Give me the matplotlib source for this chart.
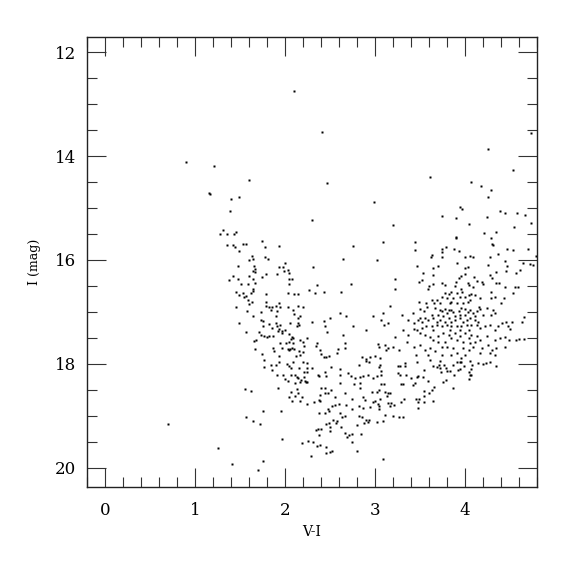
import numpy as np
import matplotlib
matplotlib.use("Agg")
import matplotlib.pyplot as plt
from matplotlib.ticker import MultipleLocator

# colour-magnitude data (V-I, I), read off the reference picture region by region
# bright / sparse stars above the main groups
top_vi = [2.10, 2.41, 4.73, 4.26]
top_i = [12.75, 13.54, 13.56, 13.86]

# upper part of the blue branch
blue_up_vi = [0.90, 1.21, 1.16, 1.17, 1.40, 1.49, 1.39, 1.31, 1.28, 1.36, 1.43, 1.46, 1.36, 1.42, 1.45, 1.49,
              1.60, 2.47, 2.99, 2.30, 1.53, 1.57, 1.74, 1.78, 1.93, 2.76,
              1.48, 1.42, 1.38, 1.48, 1.46, 1.49, 1.46, 1.49]
blue_up_i = [14.12, 14.19, 14.71, 14.74, 14.83, 14.79, 15.06, 15.43, 15.51, 15.51, 15.51, 15.46, 15.72, 15.72, 15.76, 15.83,
             14.47, 14.52, 14.88, 15.23, 15.69, 15.70, 15.64, 15.76, 15.74, 15.73,
             16.12, 16.31, 16.38, 16.37, 16.62, 16.68, 16.90, 17.21]

# upper part of the red group
red_up_vi = [3.61, 4.53, 4.07, 4.18, 4.29, 4.26, 3.95, 3.97, 3.74, 3.90, 3.20, 4.39, 4.44, 4.58, 4.67, 4.73, 4.24,
             4.05, 4.54, 4.35, 4.21, 4.29, 3.90, 3.90, 3.09, 3.45, 4.30, 4.31, 4.70, 3.79, 3.88, 4.47, 3.75]
red_up_i = [14.40, 14.26, 14.50, 14.57, 14.65, 14.78, 14.98, 15.01, 15.15, 15.19, 15.32, 15.05, 15.10, 15.10, 15.14, 15.29, 15.18,
            15.31, 15.37, 15.46, 15.48, 15.58, 15.56, 15.58, 15.65, 15.66, 15.69, 15.72, 15.78, 15.76, 15.79, 15.79, 15.79]

# blue branch, middle (V-I 1.5 - 3.0, I 15.9 - 17.9)
blue_mid_vi = [1.63, 1.64, 1.60, 1.78, 1.81, 1.66, 1.67, 1.65, 1.67, 1.93, 2.00, 1.98, 2.03, 1.99, 2.04, 2.31, 2.64, 3.02,
               1.60, 1.64, 1.75, 1.79, 1.91, 2.08, 2.04, 2.04, 1.59, 1.67, 1.51, 1.65, 1.64, 1.62, 1.53, 1.57, 1.54,
               1.59, 1.60, 1.63, 1.79, 2.03, 2.10, 2.14, 2.27, 2.33, 2.43, 2.36, 2.73, 2.62, 1.58, 1.65, 1.79, 1.79,
               1.82, 1.86, 1.84, 1.90, 1.93, 1.94, 1.91, 2.03, 2.09, 2.15, 2.20, 2.10, 2.17, 2.15, 1.73, 1.90, 1.73,
               1.76, 1.76, 1.82, 1.86, 1.90, 1.91, 1.95, 2.06, 2.15, 2.16, 2.13, 2.30, 2.43, 2.50, 2.61, 2.68, 2.44,
               2.47, 1.57, 1.71, 1.73, 1.77, 1.80, 1.82, 1.87, 1.92, 1.93, 1.97, 2.00, 1.97, 2.04, 2.08, 2.07, 2.09,
               2.09, 2.04, 2.01, 1.94, 1.97, 1.87, 1.88, 2.03, 2.04, 2.08, 2.10, 2.06, 2.17, 2.20, 2.25, 2.21, 2.16,
               2.17, 2.12, 2.20, 2.36, 2.34, 2.39, 1.68, 1.66, 1.67, 1.75, 1.93, 2.40, 2.43, 2.46, 2.49, 2.59, 2.58,
               2.67, 2.67, 2.65, 2.76, 2.90, 2.98, 3.03, 3.04, 2.86, 2.90, 2.94, 3.00]
blue_mid_i = [15.92, 15.98, 16.01, 15.94, 15.98, 16.12, 16.17, 16.21, 16.24, 16.13, 16.06, 16.14, 16.19, 16.21, 16.26, 16.13, 15.99, 16.00,
              16.31, 16.37, 16.33, 16.28, 16.28, 16.36, 16.37, 16.46, 16.47, 16.44, 16.47, 16.56, 16.60, 16.64, 16.64, 16.69, 16.72,
              16.78, 16.85, 16.81, 16.66, 16.64, 16.65, 16.65, 16.58, 16.63, 16.61, 16.48, 16.46, 16.62, 16.99, 17.08, 16.80, 16.88,
              16.90, 16.90, 16.97, 16.88, 16.83, 16.90, 16.98, 16.90, 16.96, 16.88, 16.90, 17.04, 17.08, 17.12, 17.01, 17.08, 17.15,
              17.17, 17.27, 17.23, 17.31, 17.21, 17.28, 17.25, 17.21, 17.21, 17.26, 17.28, 17.19, 17.17, 17.11, 17.03, 17.08, 17.27,
              17.38, 17.39, 17.38, 17.45, 17.46, 17.49, 17.46, 17.46, 17.37, 17.33, 17.36, 17.35, 17.41, 17.42, 17.49, 17.53, 17.51,
              17.60, 17.57, 17.60, 17.60, 17.69, 17.69, 17.76, 17.71, 17.73, 17.69, 17.71, 17.72, 17.54, 17.57, 17.51, 17.65, 17.76,
              17.82, 17.85, 17.78, 17.59, 17.65, 17.73, 17.54, 17.56, 17.72, 17.81, 17.85, 17.81, 17.86, 17.86, 17.85, 17.71, 17.79,
              17.60, 17.70, 17.44, 17.28, 17.35, 17.08, 17.62, 17.67, 17.86, 17.91, 17.86, 17.84]

# red clump region (V-I 3.0 - 4.8, I 15.8 - 17.9)
red_mid_vi = [3.44, 3.63, 3.62, 3.74, 3.75, 3.93, 4.00, 4.06, 4.09, 4.28, 4.37, 4.44, 4.53, 4.79, 4.65, 4.72, 4.76,
              3.47, 3.64, 3.70, 3.91, 4.00, 4.03, 4.26, 4.47, 4.34, 4.46, 4.57, 4.61, 3.53, 3.64, 3.96, 4.00, 3.93,
              4.28, 4.10, 3.22, 3.52, 3.49, 3.74, 3.78, 3.65, 3.90, 4.03, 4.05, 4.19, 4.20, 4.30, 4.35, 4.38, 4.13,
              4.45, 4.56, 4.59, 3.22, 3.60, 3.59, 3.89, 3.96, 4.09, 3.84, 4.53, 3.78, 3.82, 3.91, 3.97, 4.04, 4.07,
              4.11, 3.94, 4.00, 3.87, 3.80, 3.74, 3.69, 3.63, 3.57, 3.49, 4.17, 4.29, 4.29, 4.33, 4.43, 4.40, 4.06,
              4.03, 3.98, 3.91, 3.85, 3.83, 3.72, 3.66, 3.17, 3.09, 3.30, 3.42, 3.50, 3.54, 3.58, 3.67, 3.72, 3.74,
              3.78, 3.82, 3.85, 3.80, 3.87, 3.93, 3.96, 4.00, 4.03, 4.06, 4.09, 4.13, 4.17, 4.16, 4.24, 4.31, 4.33,
              4.29, 4.20, 4.11, 4.00, 3.94, 3.89, 3.76, 3.70, 3.63, 3.07, 3.14, 3.10, 3.31, 3.37, 3.43, 3.48, 3.50,
              3.52, 3.56, 3.59, 3.65, 3.69, 3.72, 3.78, 3.82, 3.85, 3.89, 3.94, 3.98, 4.02, 4.06, 4.11, 4.15, 4.13,
              4.07, 4.02, 3.96, 3.91, 3.85, 3.80, 3.74, 3.69, 3.63, 3.57, 3.52, 3.47, 3.43, 3.65, 3.83, 3.94, 4.04,
              4.17, 4.22, 4.28, 4.33, 4.37, 4.41, 4.46, 4.48, 4.52, 4.50, 4.66, 4.63, 3.22, 3.37, 3.50, 3.56, 3.61,
              3.65, 3.70, 3.76, 3.82, 3.85, 3.89, 3.94, 4.00, 4.04, 4.07, 4.13, 4.17, 4.24, 4.33, 4.39, 4.44, 4.49,
              4.57, 4.60, 4.66, 3.36, 3.50, 3.70, 3.78, 3.91, 3.98, 4.06, 4.11, 3.11, 3.14, 3.20, 3.27, 3.43, 3.56,
              3.61, 3.67, 3.74, 3.80, 3.87, 3.91, 3.98, 4.04, 4.09, 4.19, 4.26, 4.30, 4.35, 4.44, 4.28, 4.17, 4.00,
              3.85, 3.74, 3.59, 3.46, 3.12, 4.33, 3.06, 3.96]
red_mid_i = [15.81, 15.90, 15.94, 15.84, 15.95, 15.83, 15.95, 15.92, 15.94, 15.94, 15.89, 16.02, 15.81, 15.92, 16.05, 16.08, 16.09,
             16.12, 16.15, 16.11, 16.06, 16.15, 16.13, 16.10, 16.12, 16.24, 16.22, 16.26, 16.20, 16.26, 16.29, 16.31, 16.28, 16.34,
             16.29, 16.32, 16.37, 16.38, 16.42, 16.44, 16.48, 16.46, 16.42, 16.45, 16.48, 16.42, 16.47, 16.34, 16.45, 16.44, 16.40,
             16.53, 16.53, 16.53, 16.56, 16.51, 16.56, 16.51, 16.55, 16.53, 16.61, 16.64, 16.64, 16.66, 16.64, 16.61, 16.67, 16.65,
             16.67, 16.71, 16.71, 16.74, 16.74, 16.71, 16.77, 16.77, 16.82, 16.80, 16.74, 16.61, 16.74, 16.72, 16.74, 16.83, 16.77,
             16.80, 16.83, 16.83, 16.80, 16.83, 16.83, 16.83, 16.88, 17.03, 17.05, 17.02, 16.95, 16.99, 16.91, 16.93, 16.96, 16.99,
             16.95, 16.97, 16.96, 17.03, 17.01, 16.99, 16.93, 16.95, 17.01, 16.96, 17.03, 16.99, 16.95, 16.90, 16.93, 16.96, 17.03,
             17.06, 17.06, 17.08, 17.06, 17.06, 17.08, 17.08, 17.06, 17.06, 17.15, 17.21, 17.25, 17.34, 17.15, 17.22, 17.15, 17.12,
             17.19, 17.12, 17.15, 17.12, 17.19, 17.15, 17.19, 17.12, 17.19, 17.15, 17.12, 17.19, 17.15, 17.12, 17.15, 17.19, 17.25,
             17.25, 17.25, 17.28, 17.27, 17.28, 17.25, 17.28, 17.25, 17.28, 17.27, 17.31, 17.35, 17.33, 17.35, 17.35, 17.35, 17.35,
             17.31, 17.28, 17.25, 17.35, 17.27, 17.22, 17.19, 17.27, 17.19, 17.33, 17.09, 17.19, 17.49, 17.44, 17.41, 17.44, 17.49,
             17.54, 17.47, 17.41, 17.44, 17.51, 17.41, 17.47, 17.41, 17.51, 17.44, 17.47, 17.54, 17.47, 17.54, 17.51, 17.49, 17.54,
             17.54, 17.53, 17.53, 17.57, 17.63, 17.57, 17.57, 17.54, 17.57, 17.60, 17.57, 17.63, 17.70, 17.67, 17.73, 17.68, 17.73,
             17.70, 17.76, 17.67, 17.67, 17.70, 17.79, 17.70, 17.73, 17.67, 17.70, 17.63, 17.73, 17.70, 17.67, 17.79, 17.79, 17.83,
             17.83, 17.83, 17.83, 17.83, 17.74, 17.83, 17.89, 17.89]

# faint part of the blue branch and the turn-over (I > 17.9, V-I < 3.05)
faint_vi = [1.77, 1.85, 1.90, 1.93, 1.77, 1.86, 2.02, 2.04, 2.09, 2.07, 2.16, 2.20, 2.24, 2.24, 2.30, 2.21, 2.24, 2.51,
            2.61, 2.82, 2.90, 2.93, 3.04, 1.91, 1.98, 2.07, 2.00, 2.03, 2.11, 2.13, 2.15, 2.18, 2.17, 2.21, 2.22, 2.23,
            2.25, 2.37, 2.38, 2.44, 2.46, 2.61, 2.70, 2.73, 2.78, 2.83, 2.87, 2.92, 2.98, 3.02, 2.61, 2.77, 2.83, 2.11,
            1.92, 1.56, 1.62, 2.07, 2.13, 2.15, 2.11, 2.04, 2.08, 2.17, 2.19, 2.25, 2.32, 2.38, 2.39, 2.40, 2.44, 2.44,
            2.48, 2.51, 2.39, 2.56, 2.67, 2.74, 2.83, 2.87, 2.89, 2.97, 3.02, 3.04, 2.98, 3.00, 3.03, 1.76, 1.96, 2.38,
            2.44, 2.48, 2.49, 2.52, 2.56, 2.60, 2.61, 2.68, 2.74, 2.82, 2.87, 2.95, 3.04, 3.04, 2.67, 2.63, 2.58, 2.57,
            2.53, 2.49, 2.46, 2.50, 2.50, 2.40, 2.37, 2.34, 2.38, 2.62, 2.67, 2.69, 2.71, 2.74, 2.75, 2.80, 2.82, 2.86,
            2.88, 2.90, 2.93, 2.92, 3.02, 2.85, 1.57, 1.64, 1.72, 1.97, 2.19, 2.26, 2.31, 2.36, 2.39, 2.46, 2.52, 2.50,
            2.46, 2.29, 2.80, 1.76, 1.70, 0.70, 1.26, 1.41]
faint_i = [17.92, 18.02, 18.02, 17.97, 18.06, 18.11, 18.01, 18.04, 17.97, 18.08, 18.07, 17.97, 17.98, 18.07, 18.08, 18.15, 18.16, 18.06,
           18.10, 18.03, 17.94, 17.96, 18.06, 18.22, 18.21, 18.21, 18.30, 18.33, 18.21, 18.26, 18.28, 18.31, 18.35, 18.26, 18.32, 18.35,
           18.34, 18.21, 18.23, 18.15, 18.23, 18.21, 18.17, 18.23, 18.28, 18.25, 18.23, 18.21, 18.27, 18.24, 18.37, 18.38, 18.36, 18.37,
           18.47, 18.49, 18.53, 18.55, 18.49, 18.56, 18.62, 18.63, 18.72, 18.72, 18.64, 18.78, 18.74, 18.70, 18.60, 18.47, 18.47, 18.56,
           18.57, 18.50, 18.72, 18.63, 18.56, 18.68, 18.47, 18.63, 18.69, 18.55, 18.55, 18.50, 18.74, 18.72, 18.78, 18.90, 18.90, 18.94,
           18.95, 18.87, 18.90, 18.81, 18.80, 18.78, 18.95, 18.79, 18.87, 18.82, 18.85, 18.83, 18.82, 18.87, 19.00, 19.03, 19.10, 19.13,
           19.08, 19.13, 19.15, 19.22, 19.30, 19.26, 19.25, 19.27, 19.36, 19.22, 19.33, 19.40, 19.37, 19.35, 19.50, 19.17, 19.00, 19.03,
           19.14, 19.08, 19.08, 19.12, 19.11, 19.35, 19.03, 19.09, 19.16, 19.44, 19.52, 19.48, 19.51, 19.58, 19.56, 19.60, 19.67, 19.70,
           19.72, 19.78, 19.68, 19.87, 20.04, 19.15, 19.61, 19.92]

# faint part of the red group (I > 17.9, V-I > 3.05)
red_faint_vi = [3.06, 3.07, 3.07, 3.07, 3.10, 3.11, 3.14, 3.13, 3.17, 3.06, 3.14, 3.18, 3.17, 3.21, 3.11, 3.09, 3.20, 3.27,
                3.31, 3.09, 3.26, 3.28, 3.33, 3.33, 3.26, 3.28, 3.35, 3.40, 3.47, 3.47, 3.48, 3.53, 3.54, 3.59, 3.61, 3.64,
                3.69, 3.71, 3.72, 3.72, 3.73, 3.77, 3.79, 3.80, 3.83, 3.88, 3.87, 3.91, 3.92, 3.94, 3.94, 3.96, 3.99, 4.06,
                4.08, 4.07, 4.05, 4.06, 4.05, 4.07, 4.14, 4.20, 4.23, 4.28, 4.35, 3.29, 3.31, 3.42, 3.45, 3.46, 3.49, 3.48,
                3.48, 3.54, 3.55, 3.55, 3.60, 3.63, 3.66, 3.65, 3.76, 3.79, 3.87, 3.29, 3.32]
red_faint_i = [18.03, 18.13, 18.22, 18.38, 18.39, 18.54, 18.57, 18.61, 18.56, 18.67, 18.76, 18.76, 18.81, 18.79, 18.98, 19.10, 19.00, 19.03,
               19.03, 19.84, 18.05, 18.05, 17.98, 18.04, 18.18, 18.22, 18.22, 18.28, 17.96, 18.26, 18.24, 18.25, 18.12, 18.32, 17.92, 18.04,
               18.06, 18.03, 17.94, 18.07, 18.15, 18.03, 18.07, 18.13, 18.13, 18.21, 18.02, 17.96, 18.12, 18.10, 17.97, 17.96, 18.04, 17.94,
               18.02, 18.10, 18.15, 18.21, 18.29, 18.21, 17.99, 18.01, 17.99, 17.96, 18.04, 18.38, 18.39, 18.40, 18.37, 18.67, 18.67, 18.74,
               18.84, 18.74, 18.53, 18.61, 18.56, 18.50, 18.44, 18.72, 18.35, 18.31, 18.47, 18.74, 18.67]

vi = np.concatenate([top_vi, blue_up_vi, red_up_vi, blue_mid_vi, red_mid_vi, faint_vi, red_faint_vi])
imag = np.concatenate([top_i, blue_up_i, red_up_i, blue_mid_i, red_mid_i, faint_i, red_faint_i])

fig = plt.figure(figsize=(5.75, 5.75), dpi=100)
ax = fig.add_axes([0.1513, 0.153, 0.7826, 0.7826])

ax.plot(vi, imag, 's', ms=1.8, mec='none', color='black')

ax.set_xlim(-0.2, 4.8)
ax.set_ylim(20.37, 11.71)

ax.xaxis.set_major_locator(MultipleLocator(1))
ax.xaxis.set_minor_locator(MultipleLocator(0.2))
ax.yaxis.set_major_locator(MultipleLocator(2))
ax.yaxis.set_minor_locator(MultipleLocator(0.5))

for s in ax.spines.values():
    s.set_linewidth(1.0)
    s.set_color('#222222')

ax.tick_params(which='both', direction='in', top=True, right=True, width=0.8, color='#333333')
ax.tick_params(which='major', length=14)
ax.tick_params(which='minor', length=7)
ax.tick_params(axis='x', which='major', pad=11)
ax.tick_params(axis='y', which='major', pad=8)

for lab in ax.get_xticklabels() + ax.get_yticklabels():
    lab.set_fontfamily('DejaVu Serif')
    lab.set_fontsize(12)

ax.set_xlabel('V-I', fontfamily='DejaVu Serif', fontsize=10, labelpad=4)
ax.set_ylabel('I (mag)', fontfamily='DejaVu Serif', fontsize=9, labelpad=10)

fig.savefig('out.png', dpi=100)
